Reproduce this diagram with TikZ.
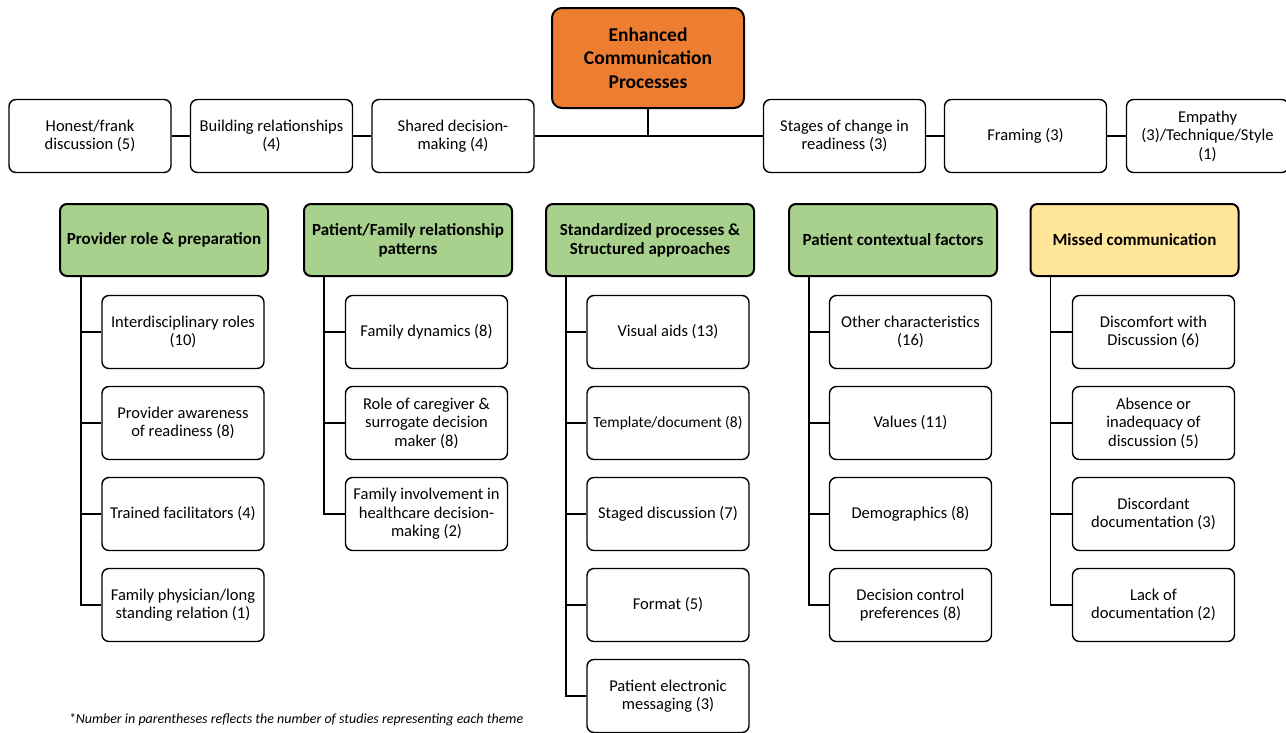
\documentclass[tikz,border=0pt]{standalone}
\usepackage{fontspec}
\setmainfont{Carlito}
\usepackage{xcolor}
\usepackage{tikz}
\definecolor{rootfill}{HTML}{ED7D31}
\definecolor{themefill}{HTML}{A9D18E}
\definecolor{missfill}{HTML}{FFE699}
\definecolor{ink}{HTML}{000000}
\tikzset{
  root/.style={draw=ink, line width=2pt, rounded corners=10pt, fill=rootfill, minimum width=192pt, minimum height=100pt, align=center, font=\fontsize{19.5}{23.5}\selectfont\bfseries},
  mode/.style={draw=ink, line width=1.4pt, rounded corners=7pt, fill=white, minimum width=162pt, minimum height=73pt, inner sep=1pt, align=center, font=\fontsize{16.5}{18.5}\selectfont},
  theme/.style={draw=ink, line width=2pt, rounded corners=7pt, fill=themefill, minimum width=208pt, minimum height=72pt, inner sep=1pt, align=center, font=\fontsize{17}{19}\selectfont\bfseries},
  item/.style={mode, minimum width=162pt},
  link/.style={draw=ink, line width=1.4pt},
  note/.style={font=\fontsize{14}{16}\selectfont\itshape},
}
\begin{document}
\begin{tikzpicture}[x=1pt, y=-1pt]
  \useasboundingbox (0,0) rectangle (1286,732);
  % central box and communication modes
  \node[root] (root) at (648,58) {Enhanced\\Communication\\Processes};
  \node[mode] (honest) at (90,136) {Honest/frank\\discussion (5)};
  \node[mode] (build) at (271.5,136) {Building relationships\\(4)};
  \node[mode] (shared) at (453,136) {Shared decision-\\making (4)};
  \node[mode] (stages) at (844.5,136) {Stages of change in\\readiness (3)};
  \node[mode] (framing) at (1025.5,136) {Framing (3)};
  \node[mode] (empathy) at (1207.5,136) {Empathy\\(3)/Technique/Style\\(1)};
  \draw[link] (honest) -- (build);
  \draw[link] (build) -- (shared);
  \draw[link] (shared) -- (stages);
  \draw[link] (stages) -- (framing);
  \draw[link] (framing) -- (empathy);
  \draw[link] (root.south) -- (root.south |- shared.east);

  % themes
  \node[theme] (prov) at (164,240) {Provider role \& preparation};
  \node[theme] (fam) at (408,240) {Patient/Family relationship\\patterns};
  \node[theme] (std) at (650,240) {Standardized processes \&\\Structured approaches};
  \node[theme] (ctx) at (893,240) {Patient contextual factors};
  \node[theme, fill=missfill] (miss) at (1134.5,240) {Missed communication};

  % sub-themes
  \foreach \n/\r/\t in {1/332/{Interdisciplinary roles\\(10)}, 2/423/{Provider awareness\\of readiness (8)},
      3/514/{Trained facilitators (4)}, 4/605/{Family physician/long\\standing relation (1)}}
    \node[item] (prov\n) at (183,\r) {\t};
  \foreach \n/\r/\t in {1/332/{Family dynamics (8)}, 2/423/{Role of caregiver \&\\surrogate decision\\maker (8)},
      3/514/{Family involvement in\\healthcare decision-\\making (2)}}
    \node[item] (fam\n) at (426.5,\r) {\t};
  \foreach \n/\r/\t in {1/332/{Visual aids (13)}, 2/423/{\fontsize{15.5}{18}\selectfont Template/document (8)}, 3/514/{Staged discussion (7)},
      4/605/{Format (5)}, 5/696/{Patient electronic\\messaging (3)}}
    \node[item] (std\n) at (668,\r) {\t};
  \foreach \n/\r/\t in {1/332/{Other characteristics\\(16)}, 2/423/{Values (11)}, 3/514/{Demographics (8)},
      4/605/{Decision control\\preferences (8)}}
    \node[item] (ctx\n) at (910.5,\r) {\t};
  \foreach \n/\r/\t in {1/332/{Discomfort with\\Discussion (6)}, 2/423/{Absence or\\inadequacy of\\discussion (5)},
      3/514/{Discordant\\documentation (3)}, 4/605/{Lack of\\documentation (2)}}
    \node[item] (miss\n) at (1153.5,\r) {\t};

  % trunks
  \coordinate (provtrunk) at ([xshift=22pt]prov.south west);
  \coordinate (famtrunk) at ([xshift=21pt]fam.south west);
  \coordinate (stdtrunk) at ([xshift=21pt]std.south west);
  \coordinate (ctxtrunk) at ([xshift=21pt]ctx.south west);
  \coordinate (misstrunk) at ([xshift=21pt]miss.south west);
  \foreach \n in {1,...,4} \draw[link] (provtrunk) |- (prov\n.west);
  \foreach \n in {1,...,3} \draw[link] (famtrunk) |- (fam\n.west);
  \foreach \n in {1,...,5} \draw[link] (stdtrunk) |- (std\n.west);
  \foreach \n in {1,...,4} \draw[link] (ctxtrunk) |- (ctx\n.west);
  \foreach \n in {1,...,4} \draw[link] (misstrunk) |- (miss\n.west);

  \node[note] (foot) at (296,720) {*Number in parentheses reflects the number of studies representing each theme};
\end{tikzpicture}
\end{document}
